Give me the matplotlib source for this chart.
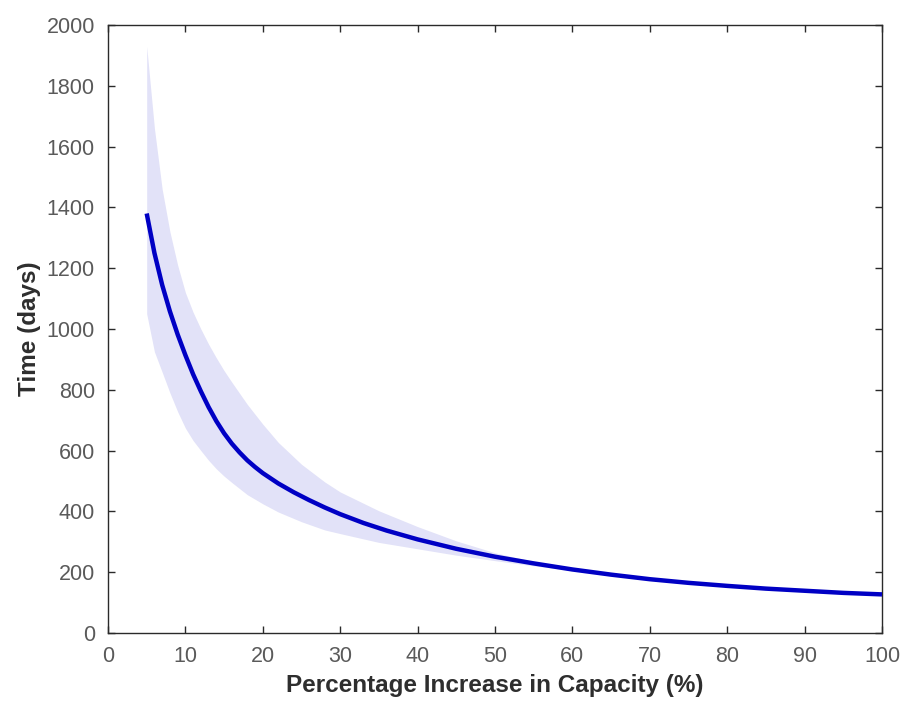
import matplotlib
matplotlib.use("Agg")
import matplotlib.pyplot as plt

# Data
capacity_pct = [5, 6, 7, 8, 9, 10, 11, 12, 13, 14, 15, 16, 17, 18, 19, 20, 22, 24,
                26, 28, 30, 33, 36, 40, 45, 50, 55, 60, 65, 70, 75, 80, 85, 90,
                95, 100]
time_days = [1380, 1250, 1145, 1058, 982, 914, 851, 795, 743, 697, 657, 623, 594,
             568, 546, 526, 492, 463, 437, 413, 391, 362, 337, 308, 277, 251, 229,
             209, 192, 177, 165, 155, 146, 139, 132, 127]

band_pct = [5, 6, 7, 8, 9, 10, 11, 12, 13, 14, 15, 16, 18, 20, 22, 25, 28, 30, 35,
            40, 45, 50, 55, 60]
band_upper = [1930, 1660, 1460, 1320, 1210, 1120, 1055, 1000, 950, 905, 863, 825,
              752, 687, 627, 555, 497, 464, 402, 350, 303, 264, 235, 212]
band_lower = [1050, 925, 858, 790, 728, 674, 633, 600, 568, 540, 516, 495, 455,
              425, 398, 366, 339, 327, 298, 277, 256, 238, 221, 206]

xticks = list(range(0, 101, 10))
yticks = list(range(0, 2001, 200))

fig = plt.figure(figsize=(9.06, 7.11), dpi=100)
ax = fig.add_axes([0.1192, 0.1097, 0.8543, 0.8551])

ax.fill_between(band_pct, band_lower, band_upper, color="#e2e2f8", lw=0, zorder=1)
ax.plot(capacity_pct, time_days, color="#0000c4", lw=3.2, zorder=3,
        solid_capstyle="butt", solid_joinstyle="round")

ax.set_xlim(0, 100)
ax.set_ylim(0, 2000)
ax.set_xticks(xticks)
ax.set_yticks(yticks)
ax.tick_params(direction="in", top=True, right=True, length=5, width=1,
               colors="#2a2a2a", labelcolor="#5a5a5a", labelsize=15.5, pad=9.5)
for lab in ax.get_xticklabels() + ax.get_yticklabels():
    lab.set_family("Liberation Sans")
for sp in ax.spines.values():
    sp.set_color("#2a2a2a")
    sp.set_linewidth(1.0)

ax.set_xlabel("Percentage Increase in Capacity (%)", fontsize=17.5,
              family="Liberation Sans", fontweight="bold", color="#2e2e2e",
              labelpad=5)
ax.set_ylabel("Time (days)", fontsize=17.5, family="Liberation Sans",
              fontweight="bold", color="#2e2e2e", labelpad=4)

fig.savefig("out.png", dpi=100)
